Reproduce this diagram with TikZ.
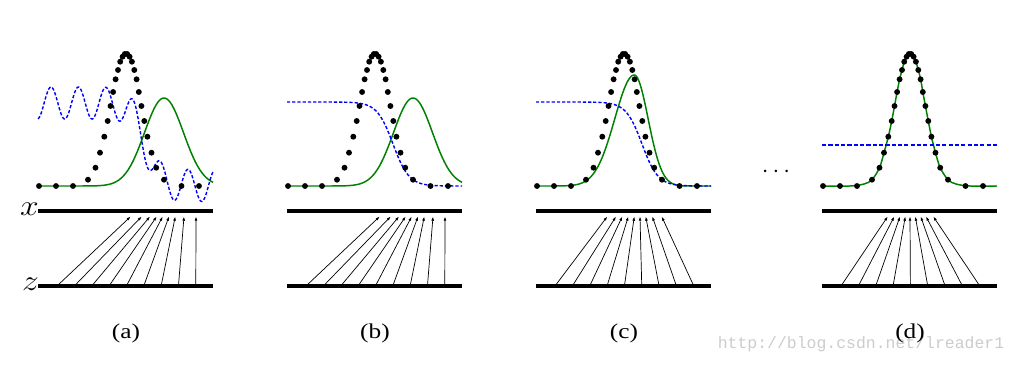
\documentclass[tikz,border=0pt]{standalone}
\usepackage{fontspec}
\setmainfont{Liberation Serif}
\newfontfamily\markfont{Liberation Mono}
\usetikzlibrary{arrows.meta}
\tikzset{
  >={Latex[length=3pt,width=2pt]},
  x=0.025cm, y=0.025cm,
}
\tikzstyle{axisline}=[line width=2.6pt]
\tikzstyle{mapping}=[->,line width=0.5pt]
\tikzstyle{gencurve}=[line width=1.05pt,green!50!black]
\tikzstyle{discr}=[blue,line width=1pt,dash pattern=on 2.3pt off 1.4pt]
\tikzstyle{every node}=[font=\fontsize{15}{17}\selectfont]
% samples of the data distribution: offset from the mode / height
\newcommand{\datapts}{-87/0,-70/0,-53/0,-38/6.3,-30.5/18.3,-26/33.3,-21.7/49.3,
  -18.3/65,-15.5/80,-12.9/94,-10.4/106.7,-8/116,-5.8/124.3,-3.4/129.3,-1.2/132,
  1.2/132,3.6/129.3,5.9/124.3,8.3/116,10.6/106.7,12.8/94,15.4/80,18.3/65,
  21.4/49.3,25.5/33.3,30.2/18.3,38/6.3,55.5/0,73/0}

\begin{document}
\begin{tikzpicture}
  \useasboundingbox (0,0) rectangle (1019,364);
  \node[text=black!20,font=\markfont\fontsize{11.7}{12}\selectfont] (mark) at (861,20)
    {http://blog.csdn.net/lreader1};
  \node[inner sep=0,xscale=1.15,font=\fontsize{21}{21}\selectfont] (xlab) at (29.5,155) {$x$};
  \node[inner sep=0,xscale=1.15,font=\fontsize{21}{21}\selectfont] (zlab) at (30.5,79.5) {$z$};
  \node[font=\fontsize{16}{16}\selectfont] (more) at (776,192) {$\cdots$};
  % x and z lines, mapping arrows, captions
  \foreach \p/\l/\ends in {a/38/{92.7,103.7,112,118.7,124.7,131,137.3,146,158},
      b/287/{92.7,103.7,112,118.7,124.7,131,137.3,146,158},
      c/536/{71.3,80,86.3,92.3,98.3,104,109.7,116.3,125.7},
      d/822/{65.7,72.3,78,83.3,88,93.3,98.7,104,111.3}}{
    \draw[axisline] (\l,153)--+(175,0);
    \draw[axisline] (\l,78)--+(175,0);
    \foreach \e [count=\i from 0] in \ends {
      \coordinate (z\p\i) at (\l+19+17.35*\i,78);
      \coordinate (x\p\i) at (\l+\e,147.5);
      \draw[mapping] (z\p\i)--(x\p\i);
    }
    \node[xscale=1.2] (cap\p) at (\l+88,31) {(\p)};
  }
  % generator density
  \foreach \l in {38,287}
    \draw[gencurve] plot[domain=0:175,samples=120]
      ({\l+\x},{178+88*exp(-1*(\x-126)*(\x-126)/760)});
  \draw[gencurve] plot[domain=0:98.3,samples=80]
      ({536+\x},{178+111*exp(-1*(\x-98.3)*(\x-98.3)/760)})
    -- plot[domain=98.3:175,samples=80]
      ({536+\x},{178+111*exp(-1*(\x-98.3)*(\x-98.3)/381)});
  \begin{scope}[shift={(910,178)}]
    \draw[gencurve] plot[smooth,tension=0.55] coordinates {(-88,0) (-60,0)
      (-46,2) (-38,6.3) (-30.5,18.3) (-26,33.3) (-21.7,49.3) (-18.3,65)
      (-15.5,80) (-12.9,94) (-10.4,106.7) (-8,116) (-5.8,124.3) (-3.4,129.3)
      (0,132.5) (3.6,129.3) (5.9,124.3) (8.3,116) (10.6,106.7) (12.8,94)
      (15.4,80) (18.3,65) (21.4,49.3) (25.5,33.3) (30.2,18.3) (38,6.3)
      (46,2) (60,0) (87,0)};
  \end{scope}
  % discriminator
  \draw[discr] plot[domain=0:175,samples=240]
    ({38+\x},{261-82.5/(1+exp(max(-8,min(8,(107-\x)/7))))+16*cos((\x-13)*13.1387)});
  \foreach \l in {287,536}
    \draw[discr] plot[domain=0:175,samples=120]
      ({\l+\x},{178+84/(1+exp(max(-8,min(8,(\x-106)/8))))});
  \draw[discr,line width=1.4pt,dash pattern=on 3pt off 1.5pt] (822,219)--(997,219);
  % data samples
  \foreach \l in {38,287,536,822}
    \foreach \dx/\dh in \datapts
      \fill (\l+88+\dx,178+\dh) circle (2.1pt);
\end{tikzpicture}
\end{document}
